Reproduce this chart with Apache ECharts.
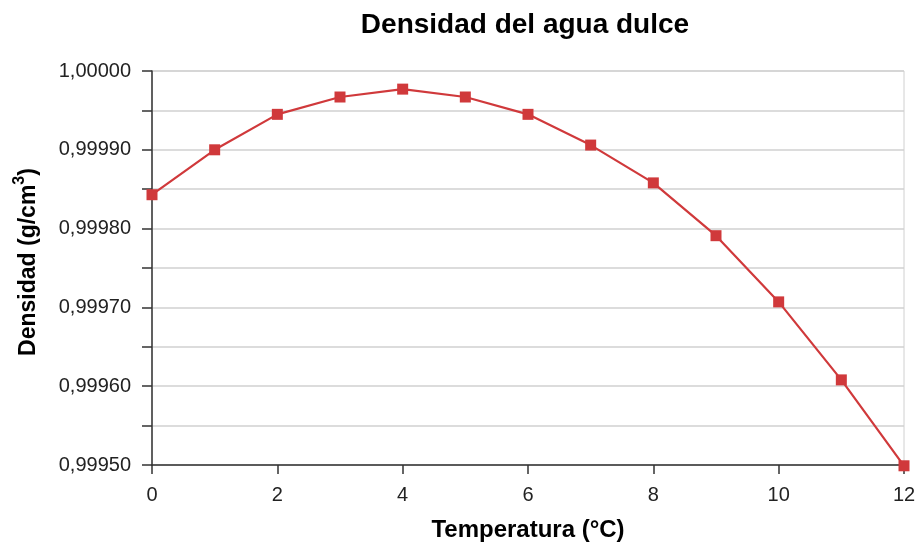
<!DOCTYPE html>
<html>
<head>
<meta charset="utf-8">
<script src="https://cdn.jsdelivr.net/npm/echarts@6/dist/echarts.min.js"></script>
<style>
html,body{margin:0;padding:0;background:#fff;}
#chart{width:916px;height:543px;}
</style>
</head>
<body>
<div id="chart"></div>
<script>
const titleText = "Densidad del agua dulce";
const xName = "Temperatura (°C)";
const yNameMain = "Densidad (g/cm";
const yNameSup = "3";
const yNameEnd = ")";
const temperatures = [0, 1, 2, 3, 4, 5, 6, 7, 8, 9, 10, 11, 12];
const densities = [0.999843, 0.999900, 0.999945, 0.999967, 0.999977, 0.999967, 0.999945, 0.999906, 0.999858, 0.999791, 0.999707, 0.999608, 0.999499];

const fontFamily = '"Liberation Sans", Arial, sans-serif';
const chart = echarts.init(document.getElementById('chart'));
chart.setOption({
  animation: false,
  backgroundColor: '#fff',
  title: {
    text: titleText,
    left: 520,
    textAlign: 'center',
    top: 6,
    textStyle: {fontFamily, fontSize: 28, fontWeight: 'bold', color: '#000'}
  },
  grid: {
    left: 152, right: 12, top: 71, bottom: 78,
    outerBoundsMode: 'none',
    containLabel: false,
    show: true, borderColor: '#d0d0d0', borderWidth: 1, backgroundColor: 'transparent'
  },
  xAxis: {
    type: 'value',
    min: 0, max: 12, interval: 2,
    name: xName,
    nameLocation: 'middle',
    nameGap: 53,
    nameTextStyle: {fontFamily, fontSize: 24, fontWeight: 'bold', color: '#000'},
    axisLine: {show: true, onZero: false, lineStyle: {color: '#333', width: 1.5}},
    axisTick: {show: true, length: 9, lineStyle: {color: '#333', width: 1.5}},
    axisLabel: {fontFamily, fontSize: 20, color: '#222', margin: 20},
    splitLine: {show: false}
  },
  yAxis: {
    type: 'value',
    min: 0.9995, max: 1.0, interval: 0.00005,
    name: '{m|' + yNameMain + '}{s|' + yNameSup + '}{m|' + yNameEnd + '}',
    nameLocation: 'middle',
    nameGap: 112,
    nameTextStyle: {
      fontFamily, fontSize: 23, fontWeight: 'bold', color: '#000',
      padding: [0, 0, 0, 12],
      rich: {
        m: {fontFamily, fontSize: 23, fontWeight: 'bold', color: '#000', lineHeight: 28, verticalAlign: 'bottom'},
        s: {fontFamily, fontSize: 16, fontWeight: 'bold', color: '#000', lineHeight: 16, verticalAlign: 'top'}
      }
    },
    axisLine: {show: true, onZero: false, lineStyle: {color: '#333', width: 1.5}},
    axisTick: {show: true, length: 10, lineStyle: {color: '#333', width: 1.5}},
    axisLabel: {
      fontFamily, fontSize: 20, color: '#222', margin: 21,
      formatter: function (v) {
        const k = Math.round(v * 1e5);
        if (k % 10 !== 0) return '';
        return v.toFixed(5).replace('.', ',');
      }
    },
    splitLine: {show: true, lineStyle: {color: '#d0d0d0', width: 1.5}}
  },
  series: [{
    type: 'line',
    data: temperatures.map((t, i) => [t, densities[i]]),
    symbol: 'rect',
    symbolSize: 11,
    itemStyle: {color: '#d0393b'},
    lineStyle: {color: '#d0393b', width: 2.2},
    clip: false
  }]
});
</script>
</body>
</html>
